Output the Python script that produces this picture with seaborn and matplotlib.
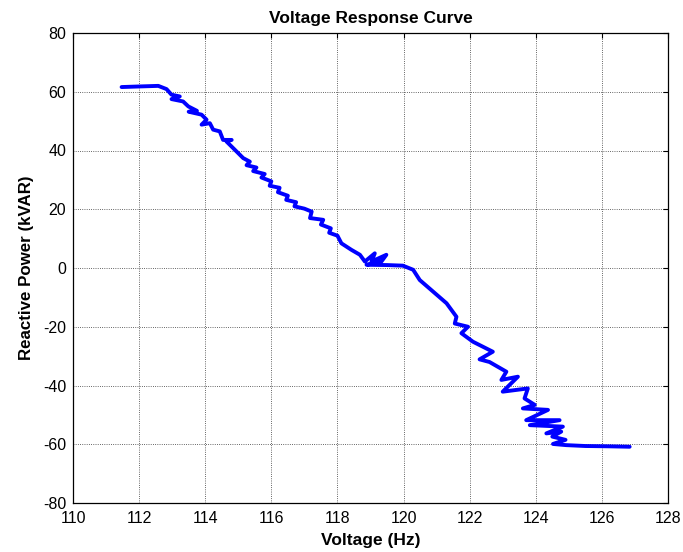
import matplotlib
matplotlib.use("Agg")
import matplotlib.pyplot as plt
import seaborn as sns
import pandas as pd

voltage = [111.47, 112.0, 112.58, 112.83, 112.98, 113.23, 112.98, 113.33, 113.49, 113.75,
           113.5, 113.89, 114.04, 113.89, 114.14, 114.24, 114.44, 114.54, 114.8, 114.64,
           114.9, 115.15, 115.35, 115.25, 115.55, 115.45, 115.8, 115.7, 116.0, 115.95,
           116.25, 116.2, 116.5, 116.45, 116.75, 116.7, 117.0, 117.22, 117.17, 117.57,
           117.5, 117.8, 117.75, 118.0, 118.12, 118.42, 118.68, 118.83,
           119.13, 119.03, 119.48, 119.33, 118.88, 119.5, 119.98, 120.29, 120.49, 120.89,
           121.3, 121.6, 121.55, 121.95, 121.75, 122.1, 122.7, 122.3, 122.6, 123.11,
           122.96, 123.46, 123.0, 123.76, 123.66, 123.97, 123.61, 124.37, 123.71, 124.72,
           123.82, 124.82, 124.32, 124.77, 124.5, 124.9, 124.52, 124.92, 125.5, 126.2,
           126.84]
reactive_power = [61.6, 61.8, 62.0, 60.9, 59.0, 58.4, 57.5, 56.7, 55.0, 53.5,
                  53.2, 52.2, 50.5, 48.8, 49.3, 47.1, 46.5, 43.6, 43.6, 43.1,
                  40.2, 37.4, 36.2, 35.0, 34.2, 33.0, 32.0, 30.8, 29.5, 28.0,
                  27.3, 25.8, 24.6, 23.2, 22.4, 21.0, 20.2, 19.2, 17.0, 16.4,
                  14.8, 13.5, 12.0, 11.0, 8.4, 6.2, 4.5, 2.2,
                  5.0, 2.2, 4.5, 2.2, 1.1, 1.0, 0.8, -0.6, -4.1, -8.0,
                  -12.0, -16.6, -18.9, -20.0, -22.2, -25.1, -28.5, -31.1, -32.0, -35.3,
                  -38.1, -37.0, -42.1, -41.0, -44.4, -46.6, -47.8, -48.3, -51.8, -51.8,
                  -53.5, -54.0, -56.3, -55.7, -57.4, -58.5, -59.9, -60.3, -60.6, -60.7,
                  -60.85]
x_ticks = [110, 112, 114, 116, 118, 120, 122, 124, 126, 128]
y_ticks = [-80, -60, -40, -20, 0, 20, 40, 60, 80]

sns.set_style("white")
plt.rcParams['font.family'] = ['Liberation Sans', 'DejaVu Sans']
plt.rcParams['axes.unicode_minus'] = False
plt.rcParams['text.color'] = 'black'
plt.rcParams['axes.labelcolor'] = 'black'

df = pd.DataFrame({"v": voltage, "q": reactive_power})

fig = plt.figure(figsize=(6.83, 5.52), dpi=100)
ax = fig.add_axes([73/683, 49/552, 595/683, 470/552])
sns.lineplot(data=df, x="v", y="q", sort=False, estimator=None, ax=ax,
             color=(0, 0, 1), linewidth=2.8, solid_joinstyle="round")

ax.set_xlim(110, 128)
ax.set_ylim(-80, 80)
ax.set_xticks(x_ticks)
ax.set_yticks(y_ticks)
ax.tick_params(direction="in", length=3.5, width=0.8, labelsize=11.5, colors="black",
               top=True, right=True)
ax.tick_params(axis="x", pad=6)
ax.tick_params(axis="y", pad=5)
ax.grid(True, linestyle=":", color="black", linewidth=0.6, alpha=0.8)
for s in ax.spines.values():
    s.set_color("black")
    s.set_linewidth(0.9)
    s.set_visible(True)

ax.set_xlabel("Voltage (Hz)", fontsize=12.5, fontweight="bold", labelpad=5, color="black")
ax.set_ylabel("Reactive Power (kVAR)", fontsize=12.2, fontweight="bold", labelpad=6, color="black")
ax.set_title("Voltage Response Curve", fontsize=12.5, fontweight="bold", pad=7, color="black")

fig.savefig("out.png", dpi=100)
